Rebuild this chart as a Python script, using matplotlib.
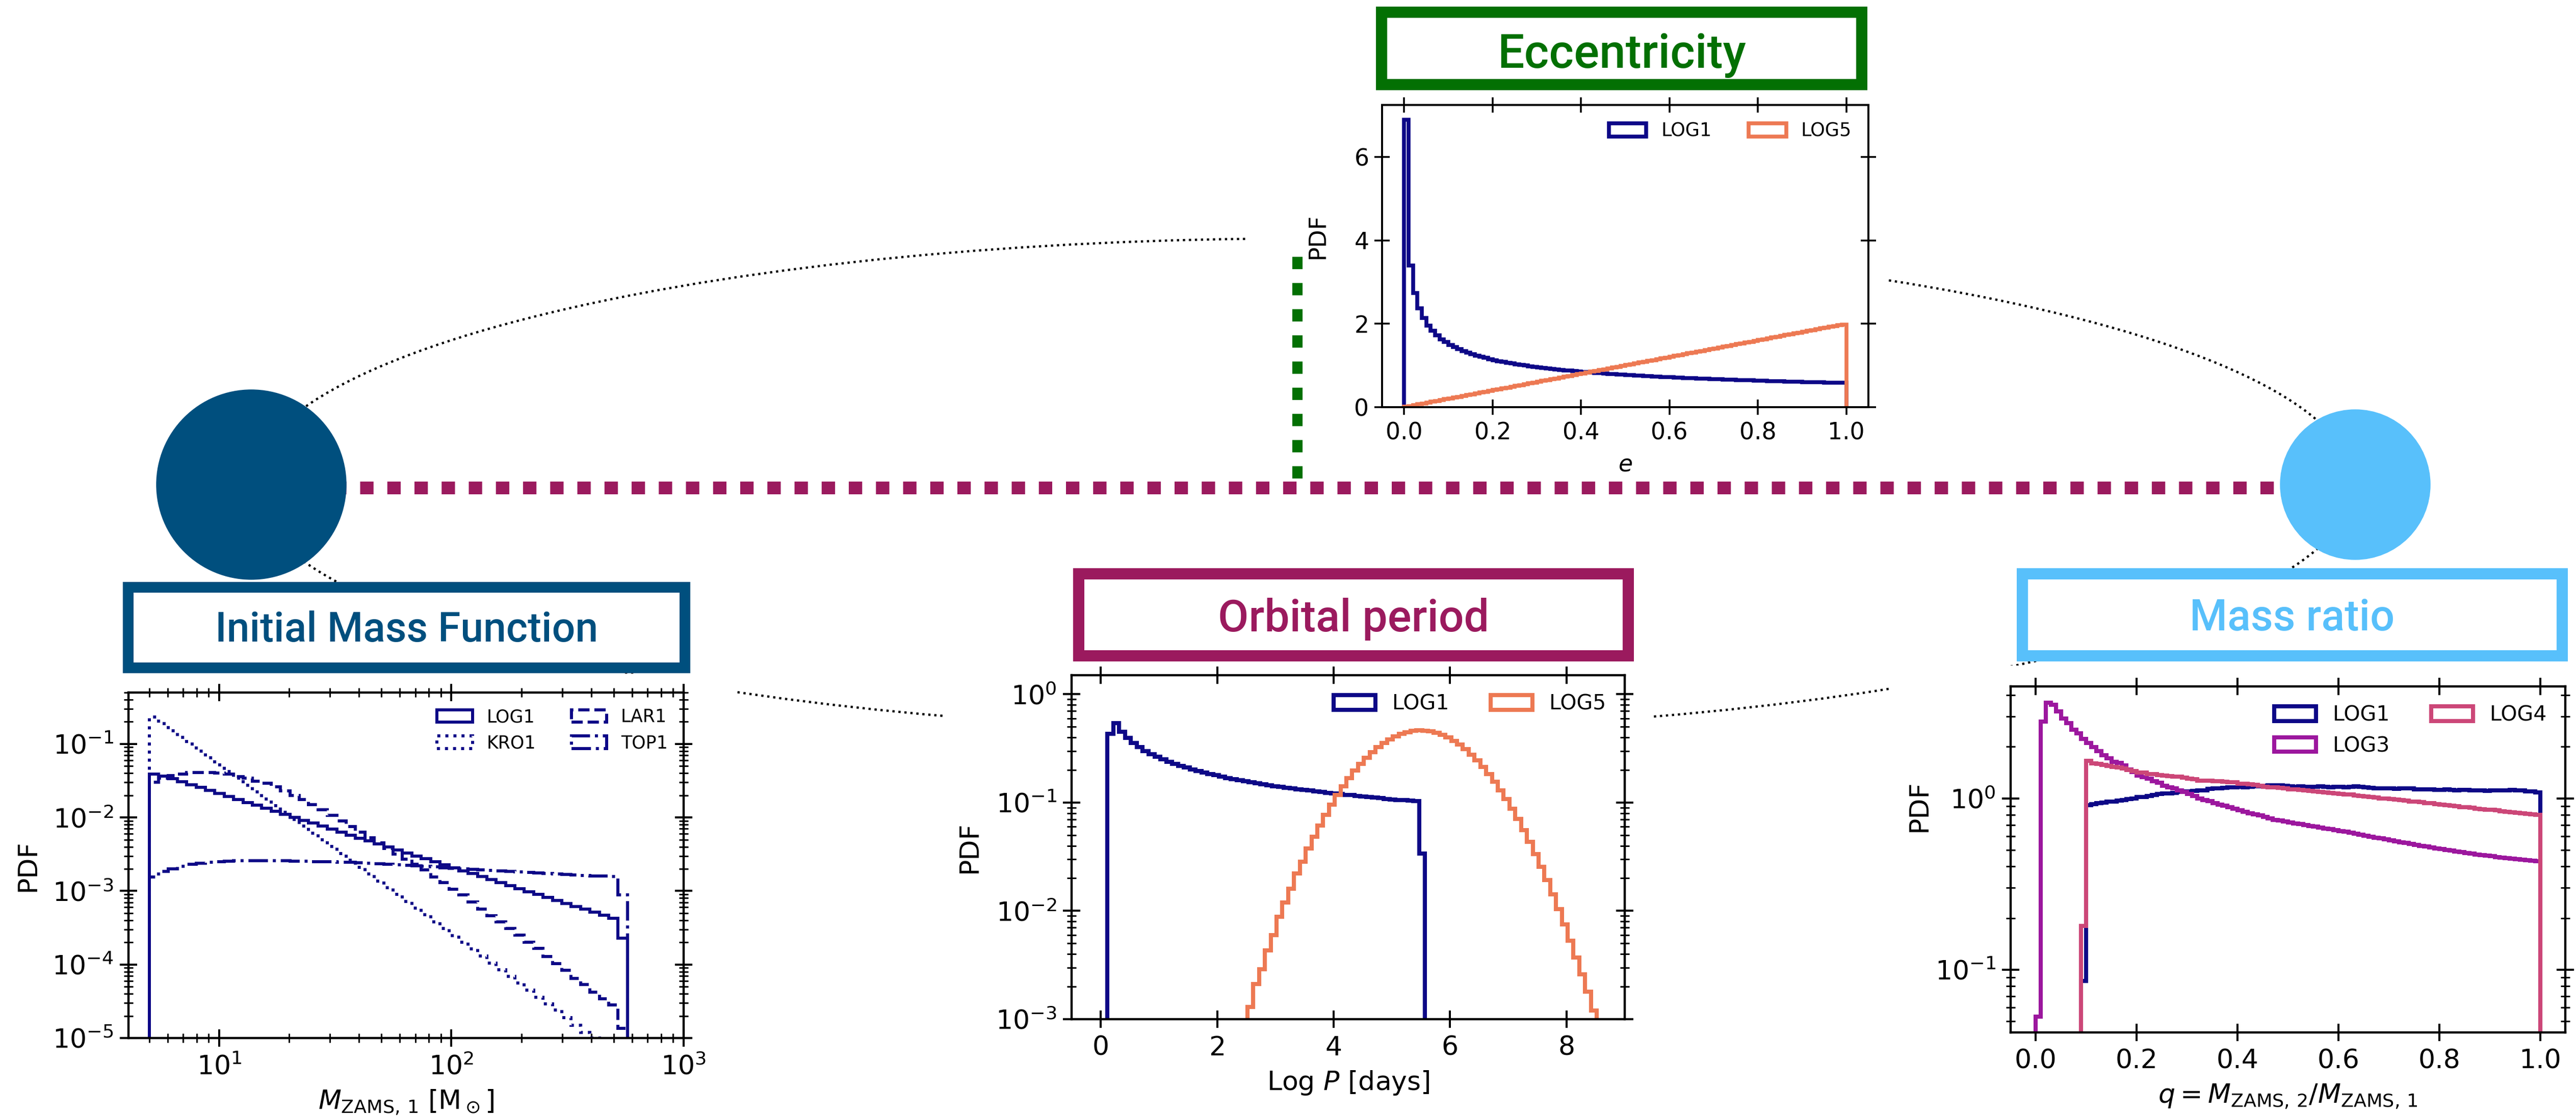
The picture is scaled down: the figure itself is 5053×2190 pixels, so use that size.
import numpy as np
import matplotlib
matplotlib.use("Agg")
import matplotlib.pyplot as plt
from matplotlib.patches import Ellipse, Circle, Rectangle

# -- canvas (pixel units) ------------------------------------------------------
W, H = 5053, 2190

# -- colours ---------------------------------------------------------------
C_LOG1 = "#0d0887"
C_LOG3 = "#9c179e"
C_LOG4 = "#cc4778"
C_LOG5 = "#ed7953"
IMF_BLUE = "#004f7e"
ECC_GREEN = "#037003"
ORB_PURPLE = "#9b1a5e"
MASS_BLUE = "#58c0fb"

# -- data: eccentricity (100 bins in e) -------------------------------------
ecc_edges = np.linspace(0.0, 1.0, 101)
ecc_log1 = [6.90, 3.40, 2.74, 2.37, 2.14, 1.96, 1.83, 1.72, 1.63, 1.56,
            1.49, 1.44, 1.39, 1.34, 1.31, 1.27, 1.24, 1.21, 1.18, 1.15,
            1.13, 1.106, 1.085, 1.066, 1.047, 1.03, 1.013, 0.998, 0.983, 0.968,
            0.955, 0.942, 0.930, 0.918, 0.907, 0.896, 0.886, 0.876, 0.866, 0.857,
            0.848, 0.839, 0.831, 0.823, 0.815, 0.807, 0.800, 0.793, 0.786, 0.779,
            0.773, 0.766, 0.760, 0.754, 0.748, 0.743, 0.737, 0.732, 0.726, 0.721,
            0.716, 0.711, 0.707, 0.702, 0.697, 0.693, 0.688, 0.684, 0.680, 0.676,
            0.672, 0.668, 0.664, 0.660, 0.656, 0.653, 0.649, 0.646, 0.642, 0.639,
            0.635, 0.632, 0.629, 0.626, 0.623, 0.620, 0.616, 0.613, 0.611, 0.608,
            0.605, 0.602, 0.599, 0.597, 0.594, 0.592, 0.589, 0.586, 0.584, 0.581]
ecc_log5 = [0.01, 0.03, 0.05, 0.07, 0.09, 0.11, 0.13, 0.15, 0.17, 0.19,
            0.21, 0.23, 0.25, 0.27, 0.29, 0.31, 0.33, 0.35, 0.37, 0.39,
            0.41, 0.43, 0.45, 0.47, 0.49, 0.51, 0.53, 0.55, 0.57, 0.59,
            0.61, 0.63, 0.65, 0.67, 0.69, 0.71, 0.73, 0.75, 0.77, 0.79,
            0.81, 0.83, 0.85, 0.87, 0.89, 0.91, 0.93, 0.95, 0.97, 0.99,
            1.01, 1.03, 1.05, 1.07, 1.09, 1.11, 1.13, 1.15, 1.17, 1.19,
            1.21, 1.23, 1.25, 1.27, 1.29, 1.31, 1.33, 1.35, 1.37, 1.39,
            1.41, 1.43, 1.45, 1.47, 1.49, 1.51, 1.53, 1.55, 1.57, 1.59,
            1.61, 1.63, 1.65, 1.67, 1.69, 1.71, 1.73, 1.75, 1.77, 1.79,
            1.81, 1.83, 1.85, 1.87, 1.89, 1.91, 1.93, 1.95, 1.97, 1.98]

# -- data: orbital period (log P in days) -----------------------------------
per1_edges = np.linspace(0.115, 5.569, 55)
per_log1 = [0.43, 0.54, 0.451, 0.395, 0.355, 0.324, 0.300, 0.281, 0.264, 0.250,
            0.238, 0.228, 0.218, 0.210, 0.202, 0.196, 0.190, 0.184, 0.179, 0.174,
            0.169, 0.165, 0.161, 0.158, 0.154, 0.151, 0.148, 0.145, 0.142, 0.140,
            0.137, 0.135, 0.133, 0.131, 0.129, 0.127, 0.125, 0.123, 0.121, 0.120,
            0.118, 0.117, 0.115, 0.114, 0.112, 0.111, 0.110, 0.108, 0.107, 0.106,
            0.105, 0.104, 0.103, 0.034]
per5_edges = np.linspace(2.52, 8.52, 61)
per_log5 = [0.00130, 0.00212, 0.0029, 0.0043, 0.0060, 0.0088, 0.0120, 0.0160, 0.0222, 0.0284,
            0.0376, 0.0482, 0.0614, 0.0772, 0.0960, 0.118, 0.142, 0.168, 0.197, 0.227,
            0.259, 0.291, 0.324, 0.355, 0.384, 0.409, 0.431, 0.448, 0.459, 0.464,
            0.462, 0.455, 0.442, 0.423, 0.400, 0.372, 0.342, 0.311, 0.278, 0.246,
            0.214, 0.184, 0.156, 0.130, 0.108, 0.0876, 0.0704, 0.0558, 0.0436, 0.0336,
            0.0256, 0.0192, 0.0142, 0.0104, 0.0075, 0.0053, 0.0037, 0.0026, 0.0018, 0.0012]

# -- data: mass ratio q --------------------------------------------------------
q_edges = np.linspace(0.0, 1.0, 101)
q_log3 = [0.053, 2.80, 3.61, 3.52, 3.21, 2.93, 2.75, 2.51, 2.40, 2.22,
          2.10, 1.99, 1.88, 1.78, 1.71, 1.63, 1.61, 1.56, 1.47, 1.42,
          1.36, 1.33, 1.30, 1.26, 1.23, 1.18, 1.16, 1.14, 1.11, 1.09,
          1.06, 1.03, 1.00, 0.98, 0.965, 0.94, 0.92, 0.905, 0.89, 0.87,
          0.85, 0.837, 0.82, 0.807, 0.794, 0.777, 0.763, 0.75, 0.742, 0.731,
          0.722, 0.715, 0.708, 0.70, 0.69, 0.683, 0.676, 0.668, 0.66, 0.652,
          0.645, 0.637, 0.63, 0.622, 0.614, 0.606, 0.598, 0.59, 0.583, 0.576,
          0.569, 0.562, 0.555, 0.548, 0.541, 0.535, 0.529, 0.523, 0.517, 0.511,
          0.505, 0.50, 0.495, 0.49, 0.485, 0.48, 0.476, 0.471, 0.467, 0.463,
          0.459, 0.455, 0.451, 0.447, 0.443, 0.44, 0.437, 0.434, 0.431, 0.428]
q_log1 = [0.086,
          0.91, 0.925, 0.935, 0.945, 0.955, 0.96, 0.97, 0.98, 0.99, 1.00,
          1.015, 1.02, 1.03, 1.045, 1.06, 1.065, 1.065, 1.075, 1.09, 1.095,
          1.095, 1.105, 1.11, 1.115, 1.135, 1.14, 1.145, 1.155, 1.16, 1.16,
          1.165, 1.16, 1.165, 1.175, 1.175, 1.18, 1.19, 1.19, 1.195, 1.18,
          1.175, 1.17, 1.175, 1.17, 1.165, 1.17, 1.175, 1.165, 1.16, 1.165,
          1.165, 1.16, 1.17, 1.175, 1.165, 1.16, 1.15, 1.145, 1.14, 1.145,
          1.14, 1.135, 1.14, 1.145, 1.14, 1.13, 1.125, 1.13, 1.125, 1.12,
          1.12, 1.125, 1.12, 1.115, 1.12, 1.12, 1.115, 1.11, 1.11, 1.105,
          1.11, 1.115, 1.11, 1.115, 1.12, 1.115, 1.11, 1.10, 1.095, 1.08]
q_log4 = [0.18,
          1.66, 1.60, 1.59, 1.57, 1.55, 1.53, 1.51, 1.49, 1.46, 1.44,
          1.41, 1.41, 1.39, 1.39, 1.37, 1.36, 1.35, 1.34, 1.34, 1.32,
          1.30, 1.29, 1.27, 1.27, 1.27, 1.26, 1.26, 1.25, 1.24, 1.24,
          1.22, 1.22, 1.21, 1.20, 1.18, 1.17, 1.16, 1.16, 1.15, 1.14,
          1.13, 1.125, 1.12, 1.11, 1.105, 1.10, 1.09, 1.085, 1.075, 1.07,
          1.06, 1.055, 1.05, 1.04, 1.03, 1.025, 1.02, 1.01, 1.00, 0.995,
          0.99, 0.985, 0.975, 0.97, 0.96, 0.955, 0.95, 0.94, 0.935, 0.925,
          0.92, 0.915, 0.905, 0.90, 0.89, 0.885, 0.88, 0.87, 0.865, 0.86,
          0.855, 0.85, 0.84, 0.835, 0.83, 0.825, 0.82, 0.81, 0.805, 0.80]

# -- data: initial mass function (log bins in M_ZAMS,1) ---------------------
imf_edges = np.logspace(np.log10(5.0), np.log10(573.0), 52)
imf_log1 = [0.0390, 0.0365, 0.0337, 0.0307, 0.0280, 0.0255, 0.0233, 0.0212, 0.0193, 0.0176,
            0.0160, 0.0146, 0.0133, 0.0121, 0.0110, 0.0101, 0.00917, 0.00835, 0.00761, 0.00693,
            0.00632, 0.00576, 0.00525, 0.00478, 0.00436, 0.00397, 0.00362, 0.00330, 0.00300, 0.00274,
            0.00249, 0.00227, 0.00207, 0.00189, 0.00172, 0.00157, 0.00143, 0.00130, 0.00118, 0.00108,
            0.000983, 0.000896, 0.000816, 0.000744, 0.000678, 0.000618, 0.000563, 0.000513, 0.000467, 0.000426,
            0.000227]
imf_kro1 = [0.234, 0.189, 0.152, 0.123, 0.0992, 0.0801, 0.0647, 0.0522, 0.0422, 0.0340,
            0.0275, 0.0222, 0.0179, 0.0145, 0.0117, 0.00943, 0.00761, 0.00614, 0.00496, 0.00401,
            0.00323, 0.00261, 0.00211, 0.00170, 0.00137, 0.00111, 0.000896, 0.000723, 0.000584, 0.000472,
            0.000381, 0.000307, 0.000248, 0.000200, 0.000162, 0.000131, 0.000105, 8.5e-5, 6.9e-5, 5.6e-5,
            4.5e-5, 3.6e-5, 2.9e-5, 2.4e-5, 1.9e-5, 1.5e-5, 1.2e-5, 1.0e-5, 8.1e-6, 6.5e-6,
            3.0e-6]
imf_lar1 = [0.030, 0.034, 0.037, 0.039, 0.041, 0.041, 0.041, 0.040, 0.039, 0.036,
            0.034, 0.031, 0.029, 0.026, 0.023, 0.020, 0.0175, 0.0150, 0.0127, 0.0106,
            0.0089, 0.0075, 0.0063, 0.0053, 0.0045, 0.0038, 0.0032, 0.0027, 0.0023, 0.00193,
            0.00156, 0.00130, 0.00105, 0.00088, 0.00071, 0.00057, 0.00046, 0.00038, 0.00031, 0.00025,
            0.00020, 0.000165, 0.000128, 0.000103, 8.4e-5, 6.5e-5, 5.3e-5, 4.2e-5, 3.4e-5, 2.8e-5,
            1.36e-5]
imf_top1 = [0.00156, 0.00185, 0.00200, 0.00215, 0.00230, 0.00240, 0.00248, 0.00252, 0.00256, 0.00258,
            0.00260, 0.00260, 0.00258, 0.00260, 0.00257, 0.00255, 0.00256, 0.00252, 0.00250, 0.00250,
            0.00247, 0.00245, 0.00244, 0.00240, 0.00236, 0.00232, 0.00228, 0.00223, 0.00220, 0.00216,
            0.00212, 0.00208, 0.00204, 0.00200, 0.00197, 0.00194, 0.00190, 0.00187, 0.00184, 0.00181,
            0.00178, 0.00175, 0.00173, 0.00170, 0.00168, 0.00165, 0.00163, 0.00161, 0.00159, 0.00157,
            0.00088]


def px_rect(left, top, right, bottom):
    """Pixel box (top-left origin) -> figure fraction rect."""
    return [left / W, 1 - bottom / H, (right - left) / W, (bottom - top) / H]


def step_hist(ax, edges, values, color, lw, ls="-", label=None):
    edges = np.asarray(edges)
    mids = 0.5 * (edges[:-1] + edges[1:])
    ax.hist(mids, bins=edges, weights=values, histtype="step", color=color,
            lw=lw, ls=ls, label=label)


def style_axes(ax, s=1.0):
    for sp in ax.spines.values():
        sp.set_linewidth(3.2 * s)
    ax.tick_params(which="both", direction="inout", top=True, right=True)
    ax.tick_params(which="major", length=24 * s, width=2.9 * s, labelsize=37.5 * s)
    ax.tick_params(which="minor", length=13 * s, width=2.2 * s)
    ax.tick_params(axis="x", pad=11 * s)
    ax.tick_params(axis="y", pad=9 * s)


fig = plt.figure(figsize=(W / 100, H / 100), dpi=100)

# -- background layer: orbit, connectors, stars, title boxes ---------------
bg = fig.add_axes([0, 0, 1, 1], zorder=0)
bg.set_xlim(0, W)
bg.set_ylim(H, 0)
bg.axis("off")

bg.add_patch(Ellipse((2555, 951), 4124, 966, fill=False, ls=":", lw=3.2,
                     edgecolor="black", zorder=1))

# white panel areas hiding the orbit
for (l, t, r, b) in [(2449, 190, 3700, 940), (0, 1322, 1440, H),
                     (1853, 1300, 3239, H), (3706, 1306, W, H)]:
    bg.add_patch(Rectangle((l, t), r - l, b - t, facecolor="white",
                           edgecolor="none", zorder=2))

bg.plot([493, 4620], [957, 957], color=ORB_PURPLE, lw=18, ls=(0, (1.05, 1.08)),
        solid_capstyle="butt", dash_capstyle="butt", zorder=3)
bg.plot([2545, 2545], [504, 950], color=ECC_GREEN, lw=14.5, ls=(0, (1.2, 1.35)),
        dash_capstyle="butt", zorder=3)

bg.add_patch(Circle((493, 951), 186, color=IMF_BLUE, zorder=4))
bg.add_patch(Circle((4620, 951), 147, color=MASS_BLUE, zorder=4))


def title_box(l, t, r, b, bw, color, text, size, baseline):
    bg.add_patch(Rectangle((l + bw / 2, t + bw / 2), r - l - bw, b - t - bw,
                           facecolor="white", edgecolor=color, lw=bw * 0.72,
                           joinstyle="miter", zorder=5))
    bg.text((l + r) / 2, baseline, text, color=color, ha="center", va="baseline",
            fontsize=size, family=["Roboto", "DejaVu Sans"], weight="medium", zorder=6)


title_box(2699, 13, 3663, 177, 22, ECC_GREEN, "Eccentricity", 67, 133)
title_box(241, 1141, 1354, 1320, 21, IMF_BLUE, "Initial Mass Function", 58, 1259)
title_box(2105, 1115, 3205, 1298, 22, ORB_PURPLE, "Orbital period", 63, 1239)
title_box(3956, 1115, 5037, 1298, 22, MASS_BLUE, "Mass ratio", 61, 1237)

# -- eccentricity panel ----------------------------------------------------
s_e = 0.877
ax_e = fig.add_axes(px_rect(2711, 206, 3665, 799), zorder=2)
step_hist(ax_e, ecc_edges, ecc_log1, C_LOG1, 5.5, label="LOG1")
step_hist(ax_e, ecc_edges, ecc_log5, C_LOG5, 5.5, label="LOG5")
ax_e.set_xlim(-0.05, 1.05)
ax_e.set_ylim(0, 7.25)
ax_e.set_xticks([0.0, 0.2, 0.4, 0.6, 0.8, 1.0])
ax_e.set_yticks([0, 2, 4, 6])
style_axes(ax_e, s_e)
ax_e.set_xlabel(r"$e$", fontsize=37.5 * s_e)
ax_e.set_ylabel("PDF", fontsize=37.5 * s_e)
ax_e.xaxis.set_label_coords(0.5, -0.153)
ax_e.yaxis.set_label_coords(-0.108, 0.565)
ax_e.legend(loc="upper right", ncol=2, frameon=False, fontsize=30 * s_e)

# -- IMF panel -------------------------------------------------------------
ax_i = fig.add_axes(px_rect(252, 1359, 1341, 2037), zorder=2)
ax_i.set_xscale("log")
step_hist(ax_i, imf_edges, imf_log1, C_LOG1, 4.3, "-", "LOG1")
step_hist(ax_i, imf_edges, imf_kro1, C_LOG1, 4.3, ":", "KRO1")
step_hist(ax_i, imf_edges, imf_lar1, C_LOG1, 4.3, "--", "LAR1")
step_hist(ax_i, imf_edges, imf_top1, C_LOG1, 4.3, "-.", "TOP1")
ax_i.set_yscale("log")
ax_i.set_xlim(4.07, 1000)
ax_i.set_ylim(1e-5, 0.5)
style_axes(ax_i)
ax_i.set_xlabel(r"$M_{\rm ZAMS,\,1}$ [M$_\odot$]", fontsize=37.5)
ax_i.set_ylabel("PDF", fontsize=37.5)
ax_i.xaxis.set_label_coords(0.5, -0.146)
ax_i.yaxis.set_label_coords(-0.158, 0.5)
ax_i.legend(loc="upper right", ncol=2, frameon=False, fontsize=25)

# -- orbital period panel ---------------------------------------------------
ax_p = fig.add_axes(px_rect(2102, 1325, 3187, 2000), zorder=2)
step_hist(ax_p, per1_edges, per_log1, C_LOG1, 5.8, label="LOG1")
step_hist(ax_p, per5_edges, per_log5, C_LOG5, 5.8, label="LOG5")
ax_p.set_yscale("log")
ax_p.set_xlim(-0.5, 9.0)
ax_p.set_ylim(1e-3, 1.5)
ax_p.set_xticks([0, 2, 4, 6, 8])
style_axes(ax_p)
ax_p.set_xlabel(r"Log $P$ [days]", fontsize=37.5)
ax_p.set_ylabel("PDF", fontsize=37.5)
ax_p.xaxis.set_label_coords(0.5, -0.145)
ax_p.yaxis.set_label_coords(-0.161, 0.5)
ax_p.legend(loc="upper right", ncol=2, frameon=False, fontsize=29.5)

# -- mass ratio panel ------------------------------------------------------
ax_q = fig.add_axes(px_rect(3944, 1347, 5032, 2026), zorder=2)
step_hist(ax_q, q_edges[9:], q_log1, C_LOG1, 5.8, label="LOG1")
step_hist(ax_q, q_edges, q_log3, C_LOG3, 5.8, label="LOG3")
step_hist(ax_q, q_edges[9:], q_log4, C_LOG4, 5.8, label="LOG4")
ax_q.set_yscale("log")
ax_q.set_xlim(-0.05, 1.05)
ax_q.set_ylim(0.043, 4.5)
ax_q.set_xticks([0.0, 0.2, 0.4, 0.6, 0.8, 1.0])
style_axes(ax_q)
ax_q.set_xlabel(r"$q = M_{\rm ZAMS,\,2}/M_{\rm ZAMS,\,1}$", fontsize=37.5)
ax_q.set_ylabel("PDF", fontsize=37.5)
ax_q.xaxis.set_label_coords(0.5, -0.146)
ax_q.yaxis.set_label_coords(-0.142, 0.655)
ax_q.legend(loc="upper right", ncol=2, frameon=False, fontsize=29.5)

fig.savefig("out.png", dpi=100)
